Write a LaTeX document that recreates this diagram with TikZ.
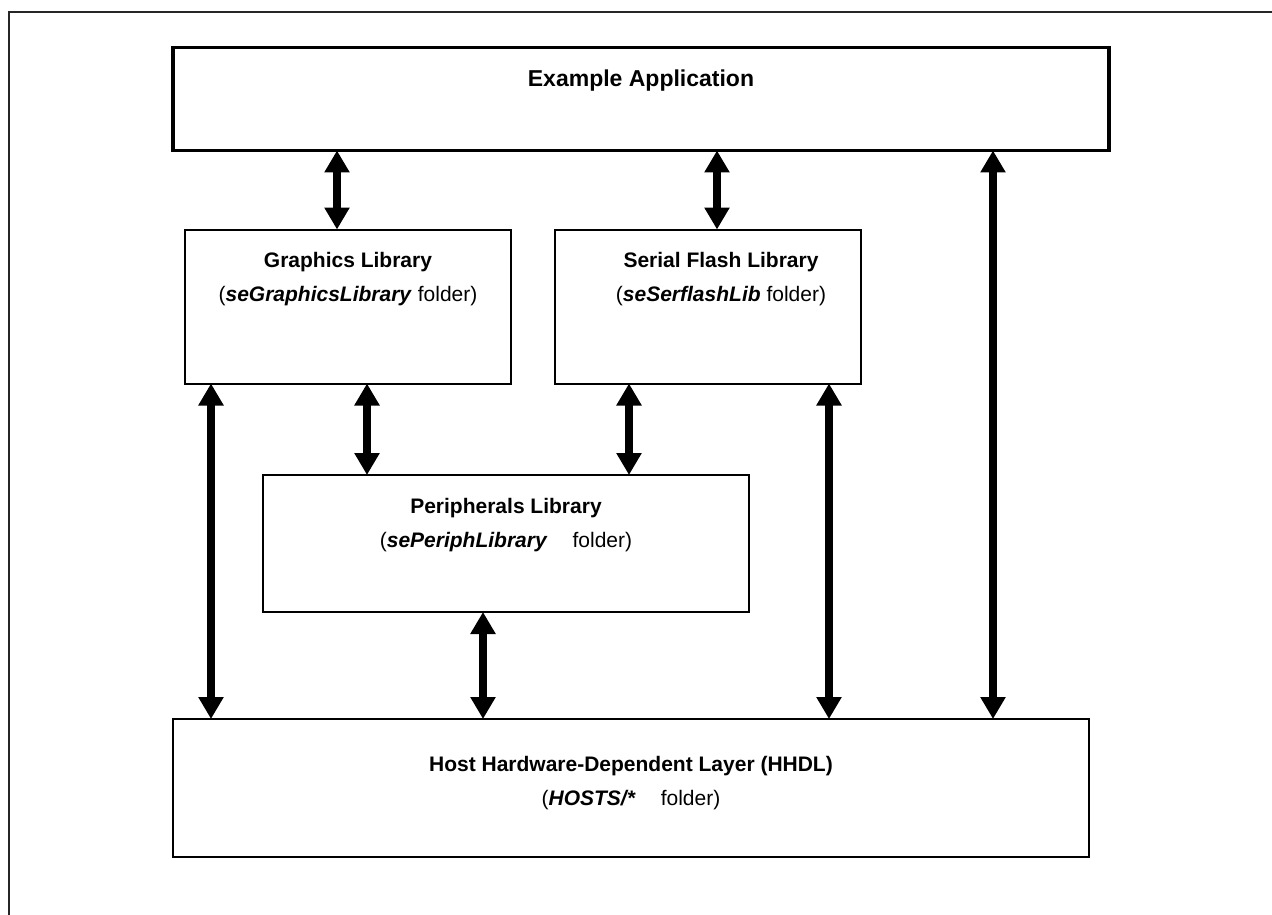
\documentclass[tikz,border=0pt]{standalone}
\usepackage{fontspec}
\setmainfont{Liberation Sans}
\usetikzlibrary{arrows.meta}
\begin{document}
\begin{tikzpicture}[x=1pt,y=-1pt,
  box/.style={draw, line width=2pt, anchor=north west, inner sep=0pt, outer sep=0pt},
  txt/.style={anchor=north, align=center, inner sep=0pt, font=\fontsize{21}{34}\selectfont},
  biarrow/.style={line width=7.5pt, {Triangle[width=24pt,length=22pt]}-{Triangle[width=24pt,length=22pt]}, shorten <=0pt, shorten >=0pt}
]
\useasboundingbox (0,0) rectangle (1272,915);
% frame (top and left edges)
\coordinate (fTL) at (8.5,12.5);
\coordinate (fTR) at (1272,12.5);
\coordinate (fBL) at (8.5,915);
\draw[line width=2pt, black!85] (fTR) -- (fTL) -- (fBL);

% boxes
\node[box, line width=3.5pt, minimum width=936pt, minimum height=103pt] (app) at (173,47.5) {};
\node[box, minimum width=326pt, minimum height=154pt] (gfx) at (185,229.5) {};
\node[box, minimum width=306pt, minimum height=154pt] (ser) at (555,229.5) {};
\node[box, minimum width=486pt, minimum height=137pt] (per) at (263,475) {};
\node[box, minimum width=916pt, minimum height=138pt] (hhdl) at (173,719) {};

% texts
\node[txt, font=\fontsize{23}{28}\selectfont\bfseries] (appT) at ([yshift=-22pt]app.north) {Example Application};
\node[txt] (gfxT) at ([yshift=-23pt]gfx.north) {\textbf{Graphics Library}\\(\textbf{\textit{seGraphicsLibrary}} folder)};
\node[txt] (serT) at ([xshift=13pt,yshift=-23pt]ser.north) {\textbf{Serial Flash Library}\\(\textbf{\textit{seSerflashLib}} folder)};
\node[txt] (perT) at ([yshift=-23pt]per.north) {\textbf{Peripherals Library}\\(\textbf{\textit{sePeriphLibrary}}\hspace{25pt}folder)};
\node[txt] (hhdlT) at ([yshift=-37pt]hhdl.north) {\textbf{Host Hardware-Dependent Layer (HHDL)}\\(\textbf{\textit{HOSTS/*}}\hspace{25pt}folder)};

% arrow x positions
\coordinate (x1) at (337,0);
\coordinate (x2) at (717,0);
\coordinate (x3) at (993,0);
\coordinate (x4) at (211,0);
\coordinate (x5) at (367,0);
\coordinate (x6) at (629,0);
\coordinate (x7) at (829,0);
\coordinate (x8) at (483,0);

\draw[biarrow] (app.south -| x1) -- (gfx.north -| x1);
\draw[biarrow] (app.south -| x2) -- (ser.north -| x2);
\draw[biarrow] (app.south -| x3) -- (hhdl.north -| x3);
\draw[biarrow] (gfx.south -| x4) -- (hhdl.north -| x4);
\draw[biarrow] (gfx.south -| x5) -- (per.north -| x5);
\draw[biarrow] (ser.south -| x6) -- (per.north -| x6);
\draw[biarrow] (ser.south -| x7) -- (hhdl.north -| x7);
\draw[biarrow] (per.south -| x8) -- (hhdl.north -| x8);
\end{tikzpicture}
\end{document}
